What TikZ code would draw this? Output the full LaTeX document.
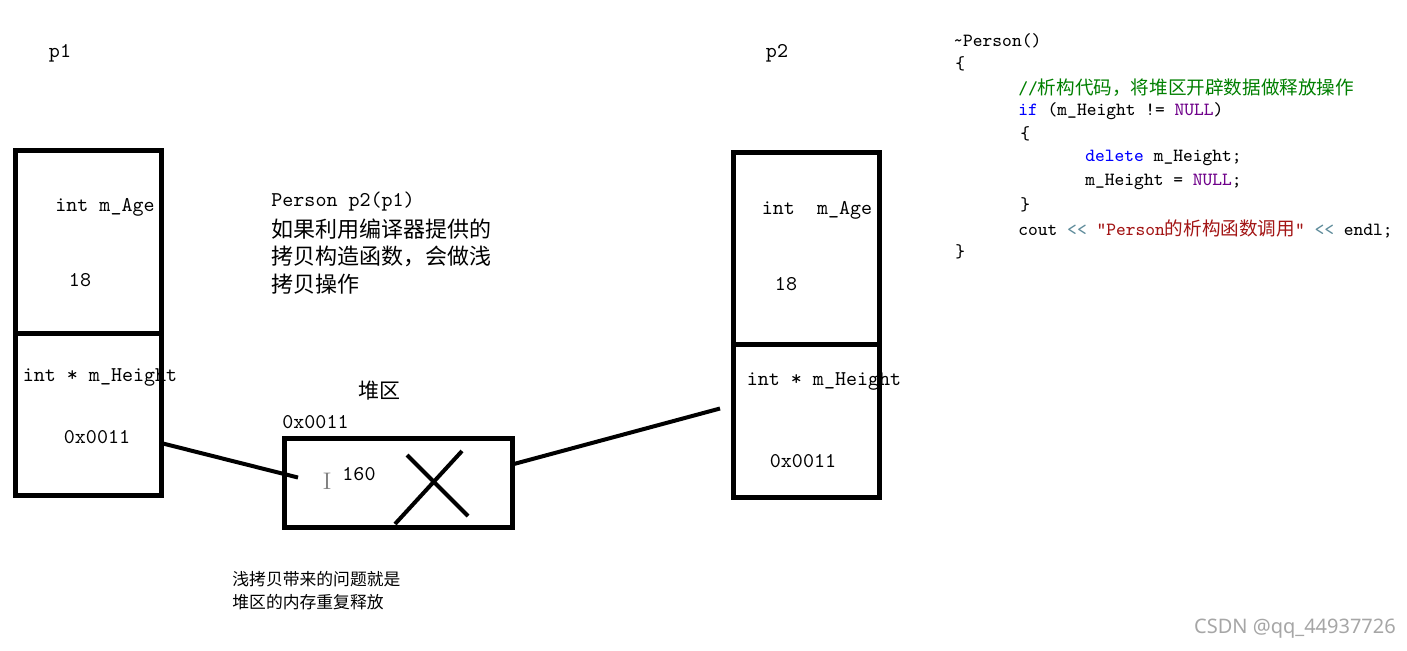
\documentclass[tikz,border=0pt]{standalone}
\usepackage{fontspec}
\newfontfamily\cjk{Noto Sans CJK SC}
\newfontfamily\wmfont{Noto Sans}
\usetikzlibrary{calc,positioning}
\definecolor{cmtgreen}{RGB}{0,128,0}
\definecolor{kwblue}{RGB}{0,0,255}
\definecolor{nullpurple}{RGB}{111,0,138}
\definecolor{strred}{RGB}{163,21,21}
\definecolor{opgray}{RGB}{95,140,155}
\tikzstyle{membox} = [draw, line width=2.5pt, inner sep=0pt, outer sep=0pt, anchor=north west]
\tikzstyle{lbl} = [font=\ttfamily\fontsize{10.5}{12}\selectfont, inner sep=0pt]
\tikzstyle{note} = [font=\cjk\fontsize{11}{13}\selectfont, inner sep=0pt, anchor=west]
\tikzstyle{code} = [font=\ttfamily\fontsize{9.3}{11}\selectfont, inner sep=0pt, anchor=west]
\tikzset{
  link/.style ={draw, line width=2pt}
}
\begin{document}
\begin{tikzpicture}[x=0.5pt,y=-0.5pt]
	\fill[white] (0,0) rectangle (1407,650);
	\useasboundingbox (0,0) rectangle (1407,650);
	% objects p1 and p2
	\node[membox, minimum width=73pt, minimum height=91.5pt] (p1age) at (15,150) {};
	\node[membox, minimum width=73pt, minimum height=81pt] (p1ptr) at (15,333) {};
	\node[membox, minimum width=73pt, minimum height=96pt] (p2age) at (733,152) {};
	\node[membox, minimum width=73pt, minimum height=76.5pt] (p2ptr) at (733,344) {};
	\node[lbl] (p1name) at (60,53) {p1};
	\node[lbl] (p2name) at (777,53) {p2};
	\node[lbl] (p1agetxt) at (105,207) {int m\_Age};
	\node[lbl] (p1ageval) at (80,280) {18};
	\node[lbl] (p1ptrtxt) at (100,377) {int * m\_Height};
	\node[lbl] (p1ptrval) at (97,437) {0x0011};
	\node[lbl] (p2agetxt) at (817,210) {int\ \ m\_Age};
	\node[lbl] (p2ageval) at (786,284) {18};
	\node[lbl] (p2ptrtxt) at (824,381) {int * m\_Height};
	\node[lbl] (p2ptrval) at (803,461) {0x0011};
	% heap
	\node[membox, minimum width=114pt, minimum height=44.5pt] (heap) at (284,438) {};
	\node[lbl, font=\cjk\fontsize{10.5}{12}\selectfont] (heapname) at (379,391) {堆区};
	\node[lbl, anchor=west] (heapaddr) at (282,422) {0x0011};
	\node[lbl] (heapval) at (359,474) {160};
	\node[inner sep=0pt, text=gray, font=\fontsize{12}{12}\selectfont] (cursor) at (327,481) {I};
	\draw[line width=2pt] (395,524) -- (462,451);
	\draw[line width=2pt] (407,455) -- (468,516);
	% pointers
	\coordinate (p2end) at ($(p2ptr.west)+(-13,-12)$);
	\draw[link] ($(p1ptr.east)+(0,29)$) -- ($(heap.west)+(14,-5)$);
	\draw[link] ($(heap.east)+(0,-18)$) -- (p2end);
	% notes
	\node[lbl, anchor=west] (copy1) at (271,202) {Person p2(p1)};
	\node[note] (copy2) at (271,229) {如果利用编译器提供的};
	\node[note] (copy3) at (271,256) {拷贝构造函数，会做浅};
	\node[note] (copy4) at (271,284) {拷贝操作};
	\node[note, font=\cjk\fontsize{8.4}{10}\selectfont] (issue1) at (232,579) {浅拷贝带来的问题就是};
	\node[note, font=\cjk\fontsize{8.4}{10}\selectfont] (issue2) at (232,602) {堆区的内存重复释放};
	% destructor code
	\node[code] (code1) at (953,41) {\textasciitilde Person()};
	\node[code] (code2) at (955,64) {\{};
	\node[code, text=cmtgreen] (code3) at (1018,88) {//{\cjk 析构代码，将堆区开辟数据做释放操作}};
	\node[code] (code4) at (1018,111) {\textcolor{kwblue}{if} (m\_Height != \textcolor{nullpurple}{NULL})};
	\node[code] (code5) at (1020,134) {\{};
	\node[code] (code6) at (1085,158) {\textcolor{kwblue}{delete} m\_Height;};
	\node[code] (code7) at (1085,182) {m\_Height = \textcolor{nullpurple}{NULL};};
	\node[code] (code8) at (1020,205) {\}};
	\node[code] (code9) at (1018,229) {cout \textcolor{opgray}{<<} \textcolor{strred}{"Person{\cjk 的析构函数调用}"} \textcolor{opgray}{<<} endl;};
	\node[code] (code10) at (955,252) {\}};
	% watermark
	\node[inner sep=0pt, text=gray!70, font=\wmfont\fontsize{10}{12}\selectfont] (mark) at (1295,629) {CSDN @qq\_44937726};
\end{tikzpicture}
\end{document}
